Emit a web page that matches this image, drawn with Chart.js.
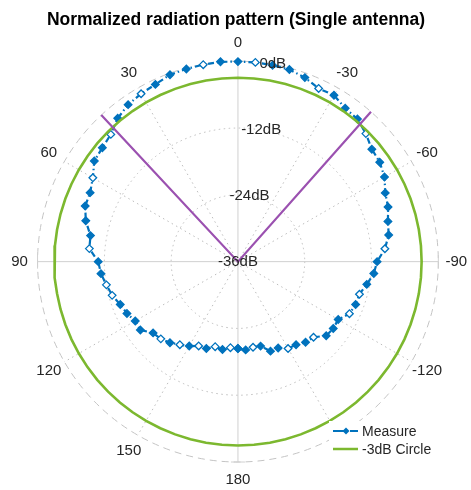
<!DOCTYPE html>
<html>
<head>
<meta charset="utf-8">
<script src="https://cdn.jsdelivr.net/npm/chart.js@4.4.1/dist/chart.umd.min.js"></script>
<style>
  html, body { margin: 0; padding: 0; background: #fff; }
  #wrap { width: 471px; height: 490px; }
</style>
</head>
<body>
<div id="wrap"><canvas id="polarChart" width="471" height="490"></canvas></div>
<script>
// angles in degrees, counter-clockwise from the top (0 = boresight)
const thetaDeg = [
  -180, -175, -170, -165, -160, -155, -150, -145, -140, -135, -130, -125,
  -120, -115, -110, -105, -100, -95, -90, -85, -80, -75, -70, -65,
  -60, -55, -50, -45, -40, -35, -30, -25, -20, -15, -10, -5,
  0, 5, 10, 15, 20, 25, 30, 35, 40, 45, 50, 55,
  60, 65, 70, 75, 80, 85, 90, 95, 100, 105, 110, 115,
  120, 125, 130, 135, 140, 145, 150, 155, 160, 165, 170, 175,
  180
];
// normalized measured gain, dB
const measureDb = [
  -20.4, -20.1, -20.4, -20.3, -18.9, -18.9, -18.0, -17.8, -17.1, -16.8, -15.3, -15.1,
  -15.2, -13.9, -13.5, -13.4, -12.5, -11.5, -11.0, -9.5, -8.5, -8.1, -7.3, -6.8,
  -5.6, -4.9, -4.6, -3.5, -2.6, -2.4, -1.5, -1.7, -0.85, -0.3, -0.2, -0.1,
  -0.1, 0, -0.1, -0.2, -0.3, -0.9, -1.2, -1.6, -2.4, -3.7, -4.2, -4.5,
  -5.9, -6.7, -6.8, -7.7, -9.1, -9.2, -10.9, -11.3, -12.0, -12.6, -13.5, -14.0,
  -14.7, -14.6, -16.1, -16.4, -17.0, -17.8, -18.5, -19.3, -19.4, -20.2, -20.0, -20.5,
  -20.4
];
const circleDb = -3;
const beamEdgeDeg = [43, -41.6];   // -3dB crossings

const rMin = -36;
const rMax = 0;
const radialTicks = [-36, -24, -12, 0];
const angleTicks = [0, 30, 60, 90, 120, 150, 180, 210, 240, 270, 300, 330];
const angleTickLabels = ["0", "30", "60", "90", "120", "150", "180", "-150", "-120", "-90", "-60", "-30"];

// layout (pixels)
const CX = 238, CY = 262, R_PX = 205, W = 471, H = 490;
const ppu = R_PX / (rMax - rMin);

function toXY(deg, db) {
  const r = Math.max(db, rMin) - rMin;
  const a = deg * Math.PI / 180;
  return { x: -r * Math.sin(a), y: r * Math.cos(a) };
}

const measurePts = thetaDeg.map((t, i) => toXY(t, measureDb[i]));
const circlePts = thetaDeg.map(t => toXY(t, circleDb));
const beamPts = [toXY(beamEdgeDeg[0], rMax), toXY(0, rMin), toXY(beamEdgeDeg[1], rMax)];

const hollow = [2, 6, 9, 13, 15, 19, 27, 31, 35, 38, 42, 45, 48, 53, 56, 57, 63, 65, 67, 69, 71];

const BLUE = "#0072BD", GREEN = "#7CB82F", PURPLE = "#9B51B0", TXT = "#262626";
const FONT = "'Liberation Sans', Arial, Helvetica, sans-serif";

const polarDeco = {
  id: "polarDeco",
  beforeDatasetsDraw(chart) {
    const ctx = chart.ctx;
    const xs = chart.scales.x, ys = chart.scales.y;
    const cx = xs.getPixelForValue(0), cy = ys.getPixelForValue(0);
    const rad = db => xs.getPixelForValue(db - rMin) - cx;
    const R = rad(rMax);
    ctx.save();
    // spokes
    ctx.strokeStyle = "#bcbcbc";
    ctx.lineWidth = 1;
    ctx.setLineDash([1.5, 3.5]);
    angleTicks.forEach(t => {
      if (t % 90 === 0) return;
      const a = t * Math.PI / 180;
      ctx.beginPath();
      ctx.moveTo(cx, cy);
      ctx.lineTo(cx - R * Math.sin(a), cy - R * Math.cos(a));
      ctx.stroke();
    });
    // inner rings
    radialTicks.forEach(v => {
      if (v === rMin || v === rMax) return;
      ctx.beginPath();
      ctx.arc(cx, cy, rad(v), 0, Math.PI * 2);
      ctx.stroke();
    });
    // outer ring
    ctx.strokeStyle = "#c4c4c4";
    ctx.setLineDash([7, 5]);
    ctx.beginPath();
    ctx.arc(cx, cy, R, 0, Math.PI * 2);
    ctx.stroke();
    // main axes
    ctx.setLineDash([]);
    ctx.strokeStyle = "#d0d0d0";
    ctx.beginPath();
    ctx.moveTo(cx - R, cy); ctx.lineTo(cx + R, cy);
    ctx.moveTo(cx, cy - R); ctx.lineTo(cx, cy + R);
    ctx.moveTo(cx - R, cy - 7); ctx.lineTo(cx - R, cy + 7);
    ctx.moveTo(cx + R, cy - 7); ctx.lineTo(cx + R, cy + 7);
    ctx.moveTo(cx - 7, cy + R); ctx.lineTo(cx + 7, cy + R);
    ctx.moveTo(cx - 7, cy - R); ctx.lineTo(cx + 7, cy - R);
    ctx.stroke();
    ctx.restore();
  },
  afterDatasetsDraw(chart) {
    const ctx = chart.ctx;
    const xs = chart.scales.x, ys = chart.scales.y;
    const cx = xs.getPixelForValue(0), cy = ys.getPixelForValue(0);
    const rad = db => xs.getPixelForValue(db - rMin) - cx;
    const R = rad(rMax);
    ctx.save();
    ctx.fillStyle = TXT;
    ctx.font = "15px " + FONT;
    ctx.textAlign = "center";
    ctx.textBaseline = "middle";
    // radial labels along -10 deg
    const la = -10 * Math.PI / 180;
    radialTicks.forEach(v => {
      const r = rad(v);
      ctx.fillText(v + "dB", cx - r * Math.sin(la), cy - r * Math.cos(la));
    });
    // angle labels
    const lr = R + 18;
    angleTicks.forEach((t, i) => {
      const a = t * Math.PI / 180;
      ctx.fillText(angleTickLabels[i], cx - lr * Math.sin(a), cy - lr * Math.cos(a));
    });
    // legend
    ctx.fillStyle = "#fff";
    ctx.fillRect(329, 421, 112, 37);
    ctx.lineWidth = 2;
    ctx.strokeStyle = BLUE;
    ctx.setLineDash([14, 3]);
    ctx.beginPath(); ctx.moveTo(333, 431); ctx.lineTo(358, 431); ctx.stroke();
    ctx.setLineDash([]);
    ctx.fillStyle = BLUE;
    ctx.beginPath();
    ctx.moveTo(346, 427.5); ctx.lineTo(349.5, 431); ctx.lineTo(346, 434.5); ctx.lineTo(342.5, 431);
    ctx.closePath(); ctx.fill();
    ctx.strokeStyle = GREEN;
    ctx.lineWidth = 2.5;
    ctx.beginPath(); ctx.moveTo(333, 449); ctx.lineTo(358, 449); ctx.stroke();
    ctx.fillStyle = TXT;
    ctx.textAlign = "left";
    ctx.font = "14px " + FONT;
    ctx.fillText("Measure", 362, 432);
    ctx.fillText("-3dB Circle", 362, 450);
    // title
    ctx.textAlign = "center";
    ctx.fillStyle = "#000";
    ctx.font = "bold 17.5px " + FONT;
    ctx.fillText("Normalized radiation pattern (Single antenna)", 236, 20);
    ctx.restore();
  }
};

new Chart(document.getElementById("polarChart").getContext("2d"), {
  type: "scatter",
  data: {
    datasets: [
      {
        label: "Beamwidth",
        data: beamPts,
        showLine: true,
        borderColor: PURPLE,
        borderWidth: 2.2,
        pointRadius: 0,
        order: 1
      },
      {
        label: "-3dB Circle",
        data: circlePts,
        showLine: true,
        borderColor: GREEN,
        borderWidth: 2.6,
        pointRadius: 0,
        order: 2
      },
      {
        label: "Measure",
        data: measurePts,
        showLine: true,
        borderColor: BLUE,
        borderWidth: 2.2,
        borderDash: [6, 3, 1.5, 3],
        pointStyle: "rectRot",
        pointRadius: 3.8,
        pointBorderWidth: 1.3,
        pointBorderColor: BLUE,
        pointBackgroundColor: c => hollow.includes(c.dataIndex) ? "#fff" : BLUE,
        order: 3
      }
    ]
  },
  options: {
    responsive: false,
    animation: false,
    devicePixelRatio: 1,
    layout: { padding: 0 },
    plugins: { legend: { display: false }, tooltip: { enabled: false }, title: { display: false } },
    scales: {
      x: { type: "linear", display: false, min: -CX / ppu, max: (W - CX) / ppu },
      y: { type: "linear", display: false, min: -(H - CY) / ppu, max: CY / ppu }
    }
  },
  plugins: [polarDeco]
});
</script>
</body>
</html>
